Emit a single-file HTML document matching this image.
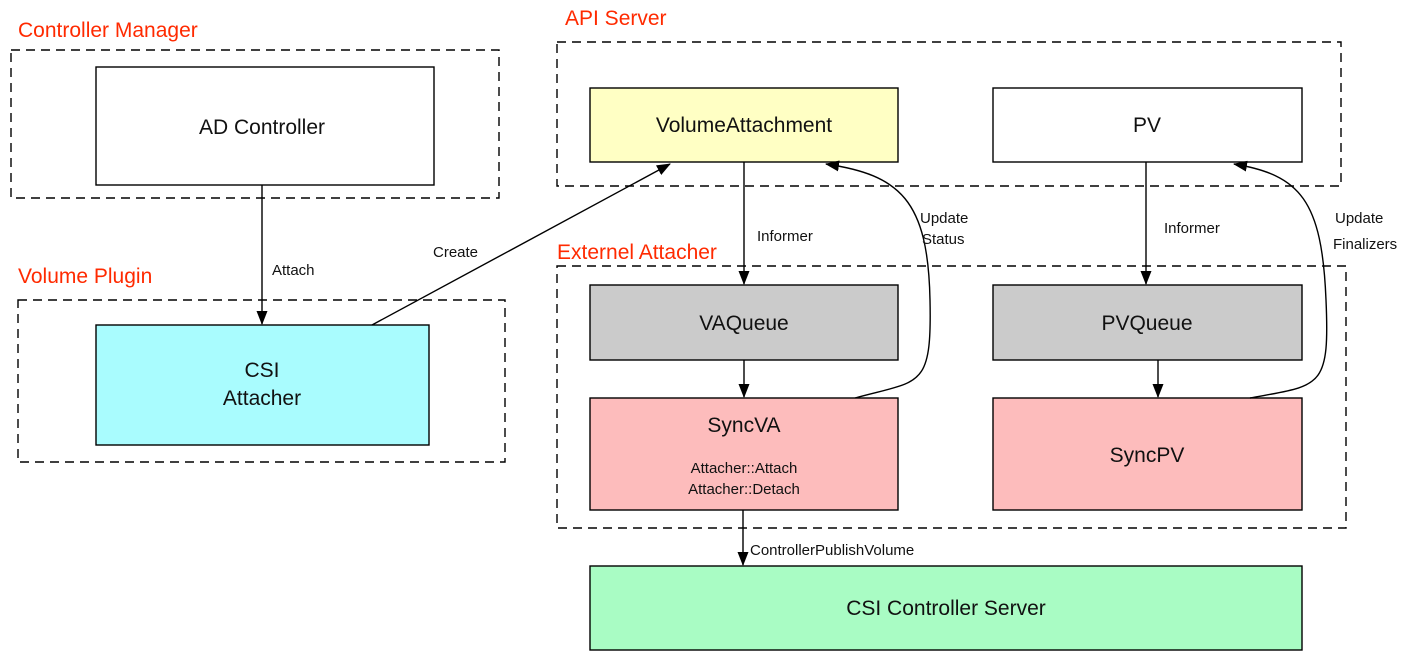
<!DOCTYPE html>
<html><head><meta charset="utf-8"><style>
body{margin:0;background:#fff}
svg text{font-family:"Liberation Sans",sans-serif}
</style></head><body>
<svg width="1407" height="657" xmlns="http://www.w3.org/2000/svg">
<defs><marker id="a" markerWidth="14" markerHeight="12" refX="13" refY="6" orient="auto" markerUnits="userSpaceOnUse"><path d="M0,0.5 L14,6 L0,11.5 z" fill="#000"/></marker></defs>
<g fill="none" stroke="#000" stroke-width="1.4" stroke-dasharray="9,6">
<rect x="11" y="50" width="488" height="148"/>
<rect x="18" y="300" width="487" height="162"/>
<rect x="557" y="42" width="784" height="144"/>
<rect x="557" y="266" width="789" height="262"/>
</g>
<g fill="#ff2a00" font-size="21">
<text x="18" y="37">Controller Manager</text>
<text x="18" y="283">Volume Plugin</text>
<text x="565" y="25">API Server</text>
<text x="557" y="259">Externel Attacher</text>
</g>
<g stroke="#000" stroke-width="1.4">
<rect x="96" y="67" width="338" height="118" fill="#fff"/>
<rect x="96" y="325" width="333" height="120" fill="#a9fcfe"/>
<rect x="590" y="88" width="308" height="74" fill="#ffffc4"/>
<rect x="993" y="88" width="309" height="74" fill="#fff"/>
<rect x="590" y="285" width="308" height="75" fill="#cbcbcb"/>
<rect x="993" y="285" width="309" height="75" fill="#cbcbcb"/>
<rect x="590" y="398" width="308" height="112" fill="#fdbcbc"/>
<rect x="993" y="398" width="309" height="112" fill="#fdbcbc"/>
<rect x="590" y="566" width="712" height="84" fill="#a9fcc4"/>
</g>
<g stroke="#000" stroke-width="1.4" fill="none" marker-end="url(#a)">
<line x1="262" y1="185" x2="262" y2="324"/>
<line x1="372" y1="325" x2="670" y2="164"/>
<line x1="744" y1="162" x2="744" y2="284"/>
<line x1="744" y1="360" x2="744" y2="397"/>
<path d="M855,398 C920,380 932,390 930,300 C928,200 900,175 826,164"/>
<line x1="1146" y1="162" x2="1146" y2="284"/>
<line x1="1158" y1="360" x2="1158" y2="397"/>
<path d="M1250,398 C1320,385 1330,390 1326,300 C1322,200 1300,175 1234,164"/>
<line x1="743" y1="510" x2="743" y2="565"/>
</g>
<g font-size="21" text-anchor="middle" fill="#111">
<text x="262" y="134">AD Controller</text>
<text x="262" y="377">CSI</text>
<text x="262" y="405">Attacher</text>
<text x="744" y="132">VolumeAttachment</text>
<text x="1147" y="132">PV</text>
<text x="744" y="330">VAQueue</text>
<text x="1147" y="330">PVQueue</text>
<text x="744" y="432">SyncVA</text>
<text x="1147" y="462">SyncPV</text>
<text x="946" y="615">CSI Controller Server</text>
</g>
<g font-size="15" fill="#111">
<text x="272" y="275">Attach</text>
<text x="433" y="257">Create</text>
<text x="757" y="241">Informer</text>
<text x="1164" y="233">Informer</text>
<text x="920" y="223">Update</text>
<text x="922" y="244">Status</text>
<text x="1335" y="223">Update</text>
<text x="1333" y="249">Finalizers</text>
<text x="750" y="555">ControllerPublishVolume</text>
<text x="744" y="473" text-anchor="middle">Attacher::Attach</text>
<text x="744" y="494" text-anchor="middle">Attacher::Detach</text>
</g>
</svg>
</body></html>
